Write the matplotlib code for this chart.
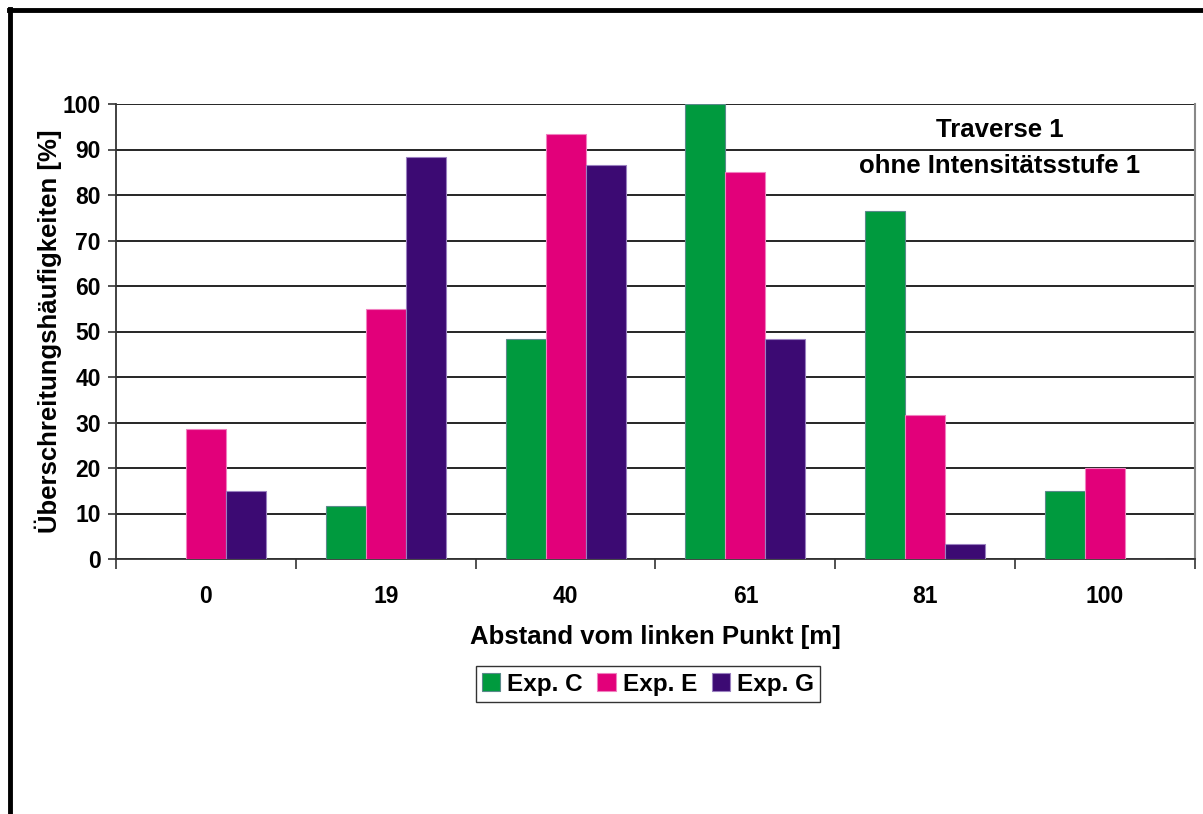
import numpy as np
import matplotlib
matplotlib.use("Agg")
import matplotlib.pyplot as plt
from matplotlib.lines import Line2D

plt.rcParams["font.family"] = ["Liberation Sans", "DejaVu Sans"]
plt.rcParams["font.weight"] = "bold"

# data
categories = ["0", "19", "40", "61", "81", "100"]
exp_c = [0, 11.7, 48.3, 100, 76.5, 15.0]
exp_e = [28.5, 55.0, 93.3, 85.0, 31.7, 20.0]
exp_g = [15.0, 88.3, 86.7, 48.3, 3.3, 0]
series = [("Exp. C", exp_c, "#009a3e", "#5a8a8a"),
          ("Exp. E", exp_e, "#e2007a", "#f080c0"),
          ("Exp. G", exp_g, "#3c0a73", "#9a80c0")]

fig = plt.figure(figsize=(12.03, 8.14), dpi=100)
ax = fig.add_axes([116 / 1203, 1 - 559 / 814, (1195 - 116) / 1203, (559 - 104) / 814])

x = np.arange(len(categories))
w = 2 / 9
for i, (name, vals, col, ec) in enumerate(series):
    ax.bar(x + (i - 1) * w, vals, width=w, color=col, edgecolor=ec,
           linewidth=0.8, label=name, zorder=3)

ax.set_xlim(-0.5, len(categories) - 0.5)
ax.set_ylim(0, 100)
ax.set_yticks(range(0, 101, 10))
ax.yaxis.grid(True, color="black", linewidth=1.2, zorder=1)
ax.set_axisbelow(True)

ax.set_xticks(x)
ax.set_xticklabels(categories, fontsize=16.5, fontweight="bold")
ax.set_xticks(np.arange(-0.5, len(categories)), minor=True)
ax.tick_params(axis="x", which="major", length=0, pad=19)
ax.tick_params(axis="x", which="minor", length=7, width=1.2, color="#333333")
ax.tick_params(axis="y", length=6, width=1.2, labelsize=16.5, color="#333333", pad=5)
for lab in ax.get_yticklabels():
    lab.set_fontweight("bold")

for s in ["left", "bottom"]:
    ax.spines[s].set_color("#333333")
    ax.spines[s].set_linewidth(1.3)
ax.spines["top"].set_visible(False)
ax.spines["right"].set_color("#888888")
ax.spines["right"].set_linewidth(1.5)

ax.set_ylabel("Überschreitungshäufigkeiten [%]", fontsize=18.5, fontweight="bold", labelpad=0)
ax.set_xlabel("Abstand vom linken Punkt [m]", fontsize=18.5, fontweight="bold", labelpad=12)

ax.text(0.819, 0.943, "Traverse 1", transform=ax.transAxes, ha="center", va="center",
        fontsize=18.5, fontweight="bold")
ax.text(0.819, 0.864, "ohne Intensitätsstufe 1", transform=ax.transAxes, ha="center",
        va="center", fontsize=18.5, fontweight="bold")

leg = fig.legend(loc="center", bbox_to_anchor=(648 / 1203, 1 - 684 / 814), ncol=3,
                 fontsize=17.5, frameon=True, fancybox=False, edgecolor="black",
                 handlelength=0.75, handleheight=0.75, handletextpad=0.3,
                 columnspacing=0.6, borderpad=0.25)
leg.get_frame().set_linewidth(1.0)
for t in leg.get_texts():
    t.set_fontweight("bold")

# outer frame of the chart object
fig.add_artist(Line2D([9 / 1203, 1], [1 - 10 / 814] * 2, color="black", linewidth=3.5))
fig.add_artist(Line2D([9.5 / 1203] * 2, [0, 1 - 9 / 814], color="black", linewidth=3.5))

fig.savefig("out.png", dpi=100)
